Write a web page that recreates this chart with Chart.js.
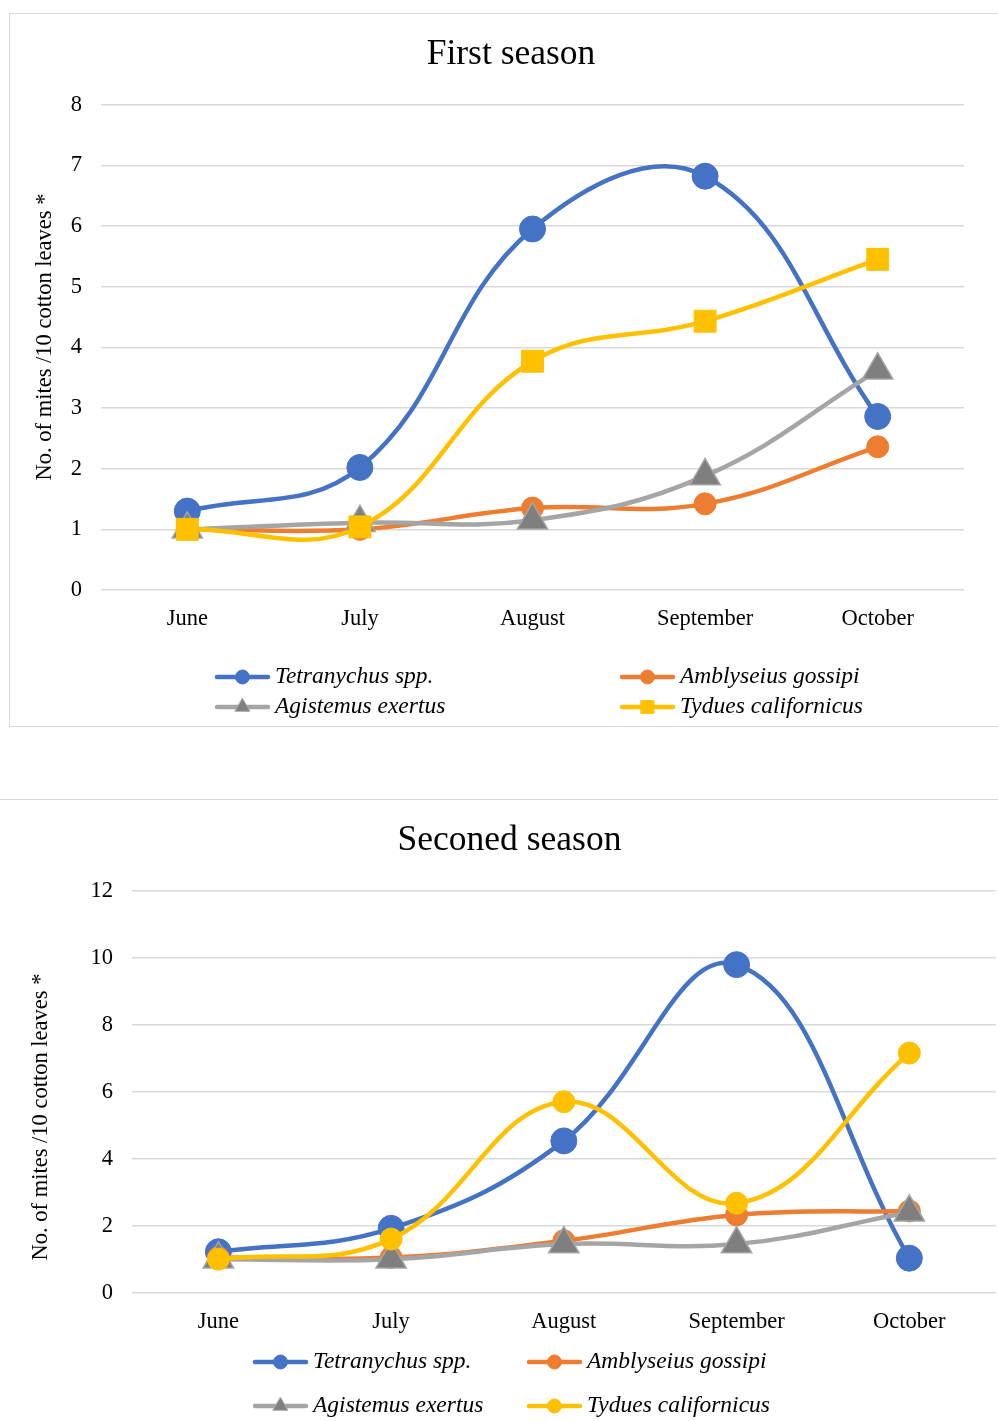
<!DOCTYPE html>
<html lang="en">
<head>
<meta charset="UTF-8">
<title>Mites on cotton leaves</title>
<script src="https://cdn.jsdelivr.net/npm/chart.js"></script>
<style>
  html, body { margin: 0; padding: 0; background: #fff; overflow: hidden; }
  body { width: 998px; height: 1421px; position: relative; }
  .box1 { position: absolute; left: 9px; top: 13px; width: 1000px; height: 712px; border: 1.5px solid #d9d9d9; }
  .line2 { position: absolute; left: 0; top: 799px; width: 998px; border-top: 1.5px solid #d9d9d9; }
  #chart1 { position: absolute; left: 24px; top: 14px; }
  #chart2 { position: absolute; left: 21px; top: 800px; }
</style>
</head>
<body>

<div class="box1"></div>
<div class="line2"></div>
<canvas id="chart1" width="974" height="713"></canvas>
<canvas id="chart2" width="977" height="621"></canvas>

<script>
  const months = ["June", "July", "August", "September", "October"];
  const seriesNames = ["Tetranychus spp.", "Amblyseius gossipi", "Agistemus exertus", "Tydues californicus"];
  const yLabel = "No. of mites /10 cotton leaves *";

  // First season
  const s1Tetranychus = [1.3, 2.02, 5.95, 6.82, 2.86];
  const s1Amblyseius  = [1.0, 1.0, 1.35, 1.42, 2.36];
  const s1Agistemus   = [1.0, 1.11, 1.15, 1.88, 3.62];
  const s1Tydues      = [1.0, 1.04, 3.77, 4.43, 5.45];

  // Second season
  const s2Tetranychus = [1.22, 1.92, 4.53, 9.79, 1.03];
  const s2Amblyseius  = [1.05, 1.05, 1.55, 2.32, 2.44];
  const s2Agistemus   = [1.0, 1.0, 1.45, 1.45, 2.4];
  const s2Tydues      = [1.0, 1.6, 5.7, 2.67, 7.15];

  Chart.defaults.font.family = '"Liberation Serif", "Times New Roman", serif';
  Chart.defaults.color = "#000";

  // marker looks, Excel style
  const blue   = { color: "#4472C4", fill: "#4472C4", edge: "#4472C4", style: "circle", r: 13 };
  const orange = { color: "#ED7D31", fill: "#ED7D31", edge: "#ED7D31", style: "circle", r: 11 };
  const grey   = { color: "#A5A5A5", fill: "#7F7F7F", edge: "#A5A5A5", style: "triangle", r: 17.5 };
  const yellowSq  = { color: "#FFC000", fill: "#FFC000", edge: "#FFC000", style: "rect", r: 15.5 };
  const yellowDot = { color: "#FFC000", fill: "#FFC000", edge: "#FFC000", style: "circle", r: 11 };
  const legendR = { circle: 7, rect: 9, triangle: 8.5 };

  function makeDataset(name, values, look, i) {
    return {
      label: name,
      data: values,
      borderColor: look.color,
      borderWidth: 4.5,
      borderCapStyle: "round",
      borderJoinStyle: "round",
      tension: 0.4,
      pointStyle: look.style,
      pointRadius: look.r,
      pointHoverRadius: look.r,
      pointBackgroundColor: look.fill,
      pointBorderColor: look.edge,
      pointBorderWidth: look.style === "triangle" ? 1.5 : 1,
      order: 3 - i   // later series drawn on top
    };
  }

  // rotated axis label + two-column legend like the Excel one
  const extraText = {
    id: "extraText",
    afterDraw(chart, args, opts) {
      const ctx = chart.ctx;
      ctx.save();
      ctx.translate(opts.yLabelX, opts.yLabelY);
      ctx.rotate(-Math.PI / 2);
      ctx.font = '22.5px "Liberation Serif"';
      ctx.fillStyle = "#000";
      ctx.textAlign = "center";
      ctx.textBaseline = "middle";
      ctx.fillText(yLabel, 0, 0);
      ctx.restore();

      chart.data.datasets.forEach((ds, i) => {
        const x = opts.cols[i % 2];
        const y = opts.rows[Math.floor(i / 2)];
        ctx.save();
        ctx.strokeStyle = ds.borderColor;
        ctx.lineWidth = 4.5;
        ctx.lineCap = "round";
        ctx.beginPath();
        ctx.moveTo(x, y);
        ctx.lineTo(x + 51, y);
        ctx.stroke();
        ctx.fillStyle = ds.pointBackgroundColor;
        ctx.strokeStyle = ds.pointBorderColor;
        ctx.lineWidth = 1;
        Chart.helpers.drawPoint(ctx, { pointStyle: ds.pointStyle, radius: legendR[ds.pointStyle], borderWidth: 1, rotation: 0 }, x + 25.5, y);
        ctx.fillStyle = "#000";
        ctx.font = 'italic 23.5px "Liberation Serif"';
        ctx.textAlign = "left";
        ctx.textBaseline = "middle";
        ctx.fillText(ds.label, x + 58, y);
        ctx.restore();
      });
    }
  };

  function drawSeason(id, title, datasets, yMax, step, lay) {
    new Chart(document.getElementById(id), {
      type: "line",
      data: { labels: months, datasets },
      plugins: [extraText],
      options: {
        responsive: false,
        animation: false,
        devicePixelRatio: 1,
        events: [],
        layout: { autoPadding: false, padding: { left: lay.left, right: lay.right, top: 0, bottom: 0 } },
        plugins: {
          legend: { display: false },
          tooltip: { enabled: false },
          title: {
            display: true,
            text: title,
            color: "#000",
            font: { size: 35.5, weight: "normal" },
            padding: { top: 19, bottom: 29 }
          },
          extraText: lay.text
        },
        scales: {
          x: {
            offset: true,
            grid: { display: false },
            border: { display: false },
            ticks: { font: { size: 22.5 }, color: "#000", padding: 8 },
            afterFit(s) { s.height = lay.xH; }
          },
          y: {
            min: 0,
            max: yMax,
            ticks: { stepSize: step, font: { size: 22.5 }, color: "#000", padding: 19 },
            grid: { color: "#d9d9d9", lineWidth: 1.5, drawTicks: false },
            border: { display: false },
            afterFit(s) { s.width = lay.yW; }
          }
        }
      }
    });
  }

  drawSeason("chart1", "First season", [
    makeDataset(seriesNames[0], s1Tetranychus, blue, 0),
    makeDataset(seriesNames[1], s1Amblyseius, orange, 1),
    makeDataset(seriesNames[2], s1Agistemus, grey, 2),
    makeDataset(seriesNames[3], s1Tydues, yellowSq, 3)
  ], 8, 1, {
    left: 34, right: 34, xH: 137, yW: 43,
    text: { yLabelX: 21, yLabelY: 323, cols: [193, 598], rows: [663, 693] }
  });

  drawSeason("chart2", "Seconed season", [
    makeDataset(seriesNames[0], s2Tetranychus, blue, 0),
    makeDataset(seriesNames[1], s2Amblyseius, orange, 1),
    makeDataset(seriesNames[2], s2Agistemus, grey, 2),
    makeDataset(seriesNames[3], s2Tydues, yellowDot, 3)
  ], 12, 2, {
    left: 2.3, right: 2.3, xH: 128.3, yW: 108.7,
    text: { yLabelX: 20, yLabelY: 317, cols: [234, 508], rows: [562, 606] }
  });
</script>

</body>
</html>
